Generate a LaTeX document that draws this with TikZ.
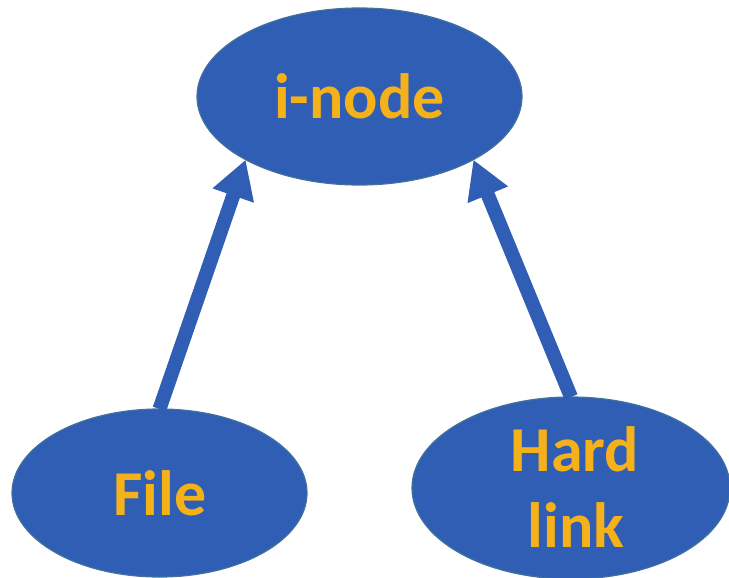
\documentclass[tikz,border=0pt]{standalone}
\usepackage{fontspec}
\setmainfont{Carlito}
\usetikzlibrary{shapes.geometric,arrows.meta}
\definecolor{bluefill}{HTML}{2F5EB4}
\definecolor{blueedge}{HTML}{41719C}
\definecolor{goldtext}{HTML}{F4B11A}
\tikzset{
  blob/.style={ellipse, fill=bluefill, draw=blueedge, line width=1.2pt, inner sep=0pt, outer sep=0pt},
  txt/.style={text=goldtext, font=\fontsize{64}{76}\selectfont\bfseries, inner sep=0pt, anchor=base},
  conn/.style={draw=bluefill, line width=14pt, -{Triangle[length=38pt,width=41pt]}}
}
\begin{document}
\begin{tikzpicture}[x=1pt,y=-1pt]
\useasboundingbox (0,0) rectangle (729,578);
\node[blob, minimum width=325pt, minimum height=177pt] (inode) at (359.5,96.5) {};
\node[blob, minimum width=295pt, minimum height=168pt] (file) at (159.5,493) {};
\node[blob, minimum width=318pt, minimum height=182pt] (hard) at (571,488) {};
\node[txt] (tinode) at (359.5,118) {i-node};
\node[txt] (tfile) at (160,515) {File};
\node[txt] (thard) at (575,471) {Hard};
\node[txt] (tlink) at (576,547) {link};
\draw[conn] (file.north) -- (inode.209);
\draw[conn] (hard.north) -- (inode.331);
\end{tikzpicture}
\end{document}
